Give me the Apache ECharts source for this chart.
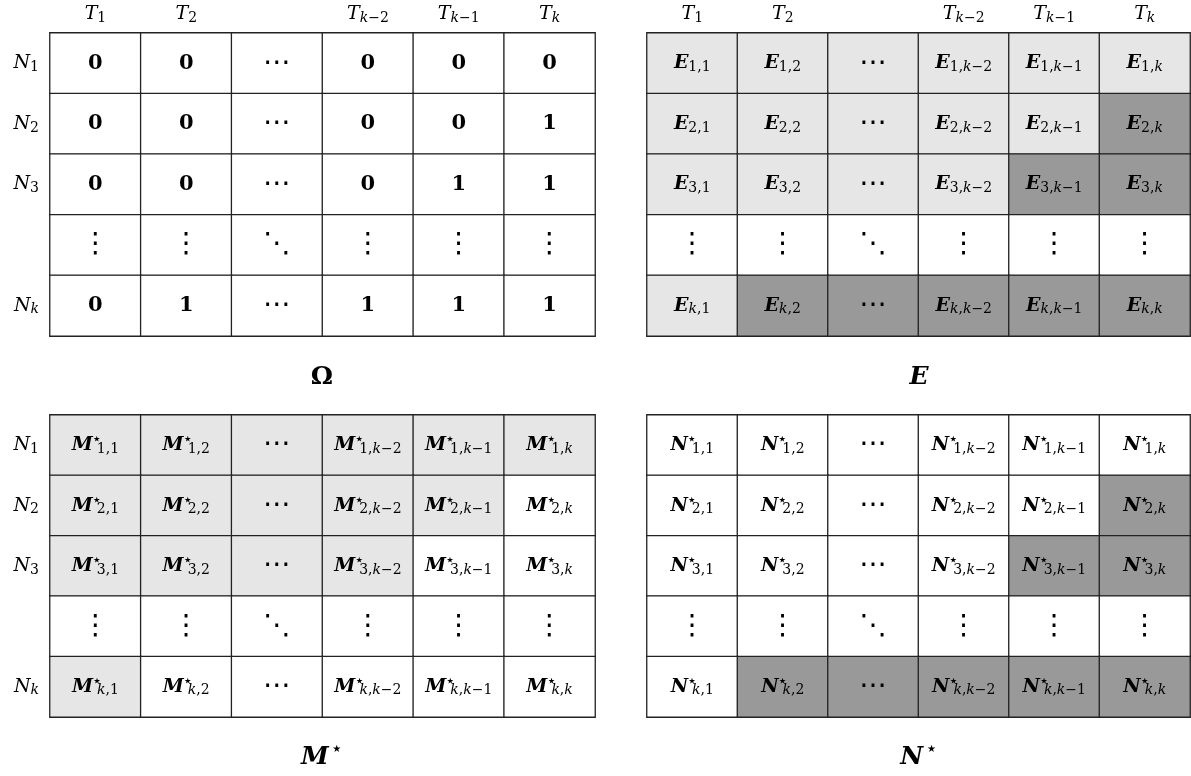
<!DOCTYPE html>
<html>
<head>
<meta charset="utf-8">
<script src="https://cdn.jsdelivr.net/npm/echarts@6/dist/echarts.min.js"></script>
<style>
  html, body { margin: 0; padding: 0; background: #fff; }
  #chart { width: 1191px; height: 776px; }
</style>
</head>
<body>
<div id="chart"></div>
<script>
// column / row index labels (T_j above, N_i at the left)
const colSubs = ['1', '2', '', 'k−2', 'k−1', 'k'];
const rowSubs = ['1', '2', '3', '', 'k'];

// Omega matrix entries
const omegaVals = [
  ['0', '0', '⋯', '0', '0', '0'],
  ['0', '0', '⋯', '0', '0', '1'],
  ['0', '0', '⋯', '0', '1', '1'],
  ['⋮', '⋮', '⋱', '⋮', '⋮', '⋮'],
  ['0', '1', '⋯', '1', '1', '1']
];

// cell shading: 0 white, 1 light gray, 2 dark gray
const omegaShade = [
  [0, 0, 0, 0, 0, 0],
  [0, 0, 0, 0, 0, 0],
  [0, 0, 0, 0, 0, 0],
  [0, 0, 0, 0, 0, 0],
  [0, 0, 0, 0, 0, 0]
];
const eShade = [
  [1, 1, 1, 1, 1, 1],
  [1, 1, 1, 1, 1, 2],
  [1, 1, 1, 1, 2, 2],
  [0, 0, 0, 0, 0, 0],
  [1, 2, 2, 2, 2, 2]
];
const mShade = [
  [1, 1, 1, 1, 1, 1],
  [1, 1, 1, 1, 1, 0],
  [1, 1, 1, 1, 0, 0],
  [0, 0, 0, 0, 0, 0],
  [1, 0, 0, 0, 0, 0]
];
const nShade = [
  [0, 0, 0, 0, 0, 0],
  [0, 0, 0, 0, 0, 2],
  [0, 0, 0, 0, 2, 2],
  [0, 0, 0, 0, 0, 0],
  [0, 2, 2, 2, 2, 2]
];

const shadeColors = ['#ffffff', '#e6e6e6', '#999999'];
const SERIF = '"DejaVu Serif", "Liberation Serif", serif';
const SANS = '"DejaVu Sans", sans-serif';

// subscript text -> rich tokens (k italic, the rest upright)
function sub(str) {
  return str.split('').map(ch => ch === 'k' ? '{si|k}' : '{s|' + ch + '}').join('');
}

function entryText(letter, star, r, c) {
  if (rowSubs[r] === '') return colSubs[c] === '' ? '{d|⋱}' : '{dv|⋮}';
  if (colSubs[c] === '') return '{d|⋯}';
  return '{L|' + letter + '}' + (star ? '{st|⋆}' : '') + sub(rowSubs[r] + ',' + colSubs[c]);
}

function omegaText(r, c) {
  const v = omegaVals[r][c];
  if (v === '⋯' || v === '⋱') return '{d|' + v + '}';
  if (v === '⋮') return '{dv|' + v + '}';
  return '{n|' + v + '}';
}

const rich = {
  L: { fontFamily: SERIF, fontStyle: 'italic', fontWeight: 'bold', fontSize: 19, color: '#000' },
  n: { fontFamily: SERIF, fontWeight: 'bold', fontSize: 21, color: '#000' },
  s: { fontFamily: SERIF, fontSize: 14, color: '#000', padding: [8, 0, 0, 0] },
  si: { fontFamily: SERIF, fontStyle: 'italic', fontSize: 14, color: '#000', padding: [8, 0, 0, 0] },
  st: { fontFamily: SANS, fontSize: 16, color: '#000', width: 0, padding: [0, 0, 10, 4] },
  d: { fontFamily: SANS, fontSize: 28, color: '#000' },
  dv: { fontFamily: SANS, fontSize: 28, color: '#000' },
  T: { fontFamily: SERIF, fontStyle: 'italic', fontSize: 19, color: '#000' },
  N: { fontFamily: SERIF, fontStyle: 'italic', fontSize: 19, color: '#000' },
  o: { fontFamily: SERIF, fontWeight: 'bold', fontSize: 25, color: '#000' },
  tl: { fontFamily: SERIF, fontStyle: 'italic', fontWeight: 'bold', fontSize: 25, color: '#000' },
  tst: { fontFamily: SANS, fontSize: 20, color: '#000', padding: [0, 0, 14, 2] }
};

const grids = [
  { left: 50, top: 33, width: 545, height: 303 },
  { left: 647, top: 33, width: 543, height: 303 },
  { left: 50, top: 415, width: 545, height: 302 },
  { left: 647, top: 415, width: 543, height: 302 }
];

const matrices = [
  { shade: omegaShade, text: omegaText },
  { shade: eShade, text: (r, c) => entryText('E', false, r, c) },
  { shade: mShade, text: (r, c) => entryText('M', true, r, c) },
  { shade: nShade, text: (r, c) => entryText('N', true, r, c) }
];

const xAxes = grids.map((g, i) => ({
  type: 'category',
  gridIndex: i,
  position: 'top',
  data: colSubs.map((s, j) => 'c' + j),
  axisLine: { show: false },
  axisTick: { show: false },
  splitLine: { show: false },
  axisLabel: {
    show: i < 2,
    interval: 0,
    margin: 8,
    formatter: (v, j) => colSubs[j] ? '{T|T}' + sub(colSubs[j]) : '',
    rich: rich
  }
}));

const yAxes = grids.map((g, i) => ({
  type: 'category',
  gridIndex: i,
  inverse: true,
  data: rowSubs.map((s, j) => 'r' + j),
  axisLine: { show: false },
  axisTick: { show: false },
  splitLine: { show: false },
  axisLabel: {
    show: i % 2 === 0,
    interval: 0,
    margin: 11,
    formatter: (v, j) => rowSubs[j] ? '{N|N}' + sub(rowSubs[j]) : '',
    rich: rich
  }
}));

const series = matrices.map((m, i) => {
  const data = [];
  m.shade.forEach((row, r) => row.forEach((v, c) => data.push([c, r, v])));
  return {
    type: 'heatmap',
    xAxisIndex: i,
    yAxisIndex: i,
    data: data,
    itemStyle: { borderColor: '#222222', borderWidth: 1.3 },
    emphasis: { disabled: true },
    label: {
      show: true,
      color: '#000',
      formatter: p => m.text(p.data[1], p.data[0]),
      rich: rich
    }
  };
});

const titles = [
  { x: 322, y: 377, text: '{o|Ω}' },
  { x: 919, y: 377, text: '{tl|E}' },
  { x: 322, y: 757, text: '{tl|M}{tst|⋆}' },
  { x: 919, y: 757, text: '{tl|N}{tst|⋆}' }
];

const chart = echarts.init(document.getElementById('chart'));
chart.setOption({
  backgroundColor: '#ffffff',
  animation: false,
  grid: grids.map(g => Object.assign({ show: false }, g)),
  xAxis: xAxes,
  yAxis: yAxes,
  visualMap: {
    type: 'piecewise',
    show: false,
    seriesIndex: [0, 1, 2, 3],
    dimension: 2,
    pieces: shadeColors.map((col, k) => ({ value: k, color: col }))
  },
  series: series,
  graphic: titles.map(t => ({
    type: 'text',
    x: t.x,
    y: t.y,
    style: { text: t.text, align: 'center', verticalAlign: 'middle', rich: rich }
  }))
});
</script>
</body>
</html>
